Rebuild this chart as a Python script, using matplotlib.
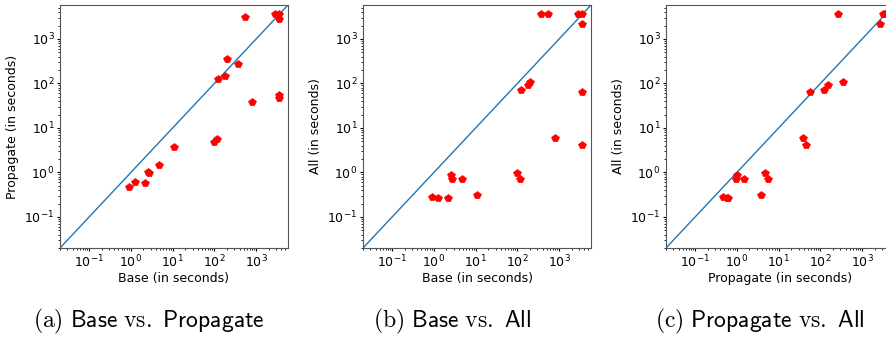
import numpy as np
import matplotlib
matplotlib.use("Agg")
import matplotlib.pyplot as plt

plt.rcParams['mathtext.fontset'] = 'cm'

# run times (in seconds) for each instance
base = [0.9, 1.27, 2.2, 2.55, 2.7, 4.7, 10.5, 100, 113, 125, 180, 205,
        360, 530, 780, 2800, 3500, 3500, 3500, 3500]
propagate = [0.47, 0.6, 0.57, 1.0, 0.95, 1.5, 3.7, 4.8, 5.5, 125, 150, 350,
             270, 3100, 39, 3550, 3550, 2750, 55, 46]
all_ = [0.28, 0.26, 0.27, 0.87, 0.7, 0.72, 0.31, 0.98, 0.7, 70, 92, 110,
        3550, 3550, 6, 3550, 3550, 2150, 63, 4.2]

lims = [0.02, 5800]

panels = [
    (base, propagate, 'Base (in seconds)', 'Propagate (in seconds)',
     r'$\mathrm{(a)}\ \mathsf{Base}\ \mathrm{vs.}\ \mathsf{Propagate}$', 149),
    (base, all_, 'Base (in seconds)', 'All (in seconds)',
     r'$\mathrm{(b)}\ \mathsf{Base}\ \mathrm{vs.}\ \mathsf{All}$', 452),
    (propagate, all_, 'Propagate (in seconds)', 'All (in seconds)',
     r'$\mathrm{(c)}\ \mathsf{Propagate}\ \mathrm{vs.}\ \mathsf{All}$', 760),
]

W, H = 886, 337
fig = plt.figure(figsize=(W / 100, H / 100), dpi=100)
lefts = [60, 363, 666]

for (x, y, xl, yl, cap, cx), left in zip(panels, lefts):
    ax = fig.add_axes([left / W, (H - 248) / H, 228 / W, 243 / H])
    ax.plot(lims, lims, color='C0', lw=1)
    ax.plot(x, y, 'p', color='red', markersize=6, markeredgewidth=0.5)
    ax.set_xscale('log')
    ax.set_yscale('log')
    ax.set_xlim(lims)
    ax.set_ylim(lims)
    ax.set_xlabel(xl, fontsize=9, labelpad=1.5)
    ax.set_ylabel(yl, fontsize=9, labelpad=3.5)
    ax.tick_params(which='major', labelsize=9, length=2.2, pad=1.8)
    ax.tick_params(which='minor', length=1.3)
    for s in ax.spines.values():
        s.set_color('#555555')
    fig.text(cx / W, (H - 321) / H, cap, fontsize=17, ha='center', va='center')

fig.savefig('out.png', dpi=100)
